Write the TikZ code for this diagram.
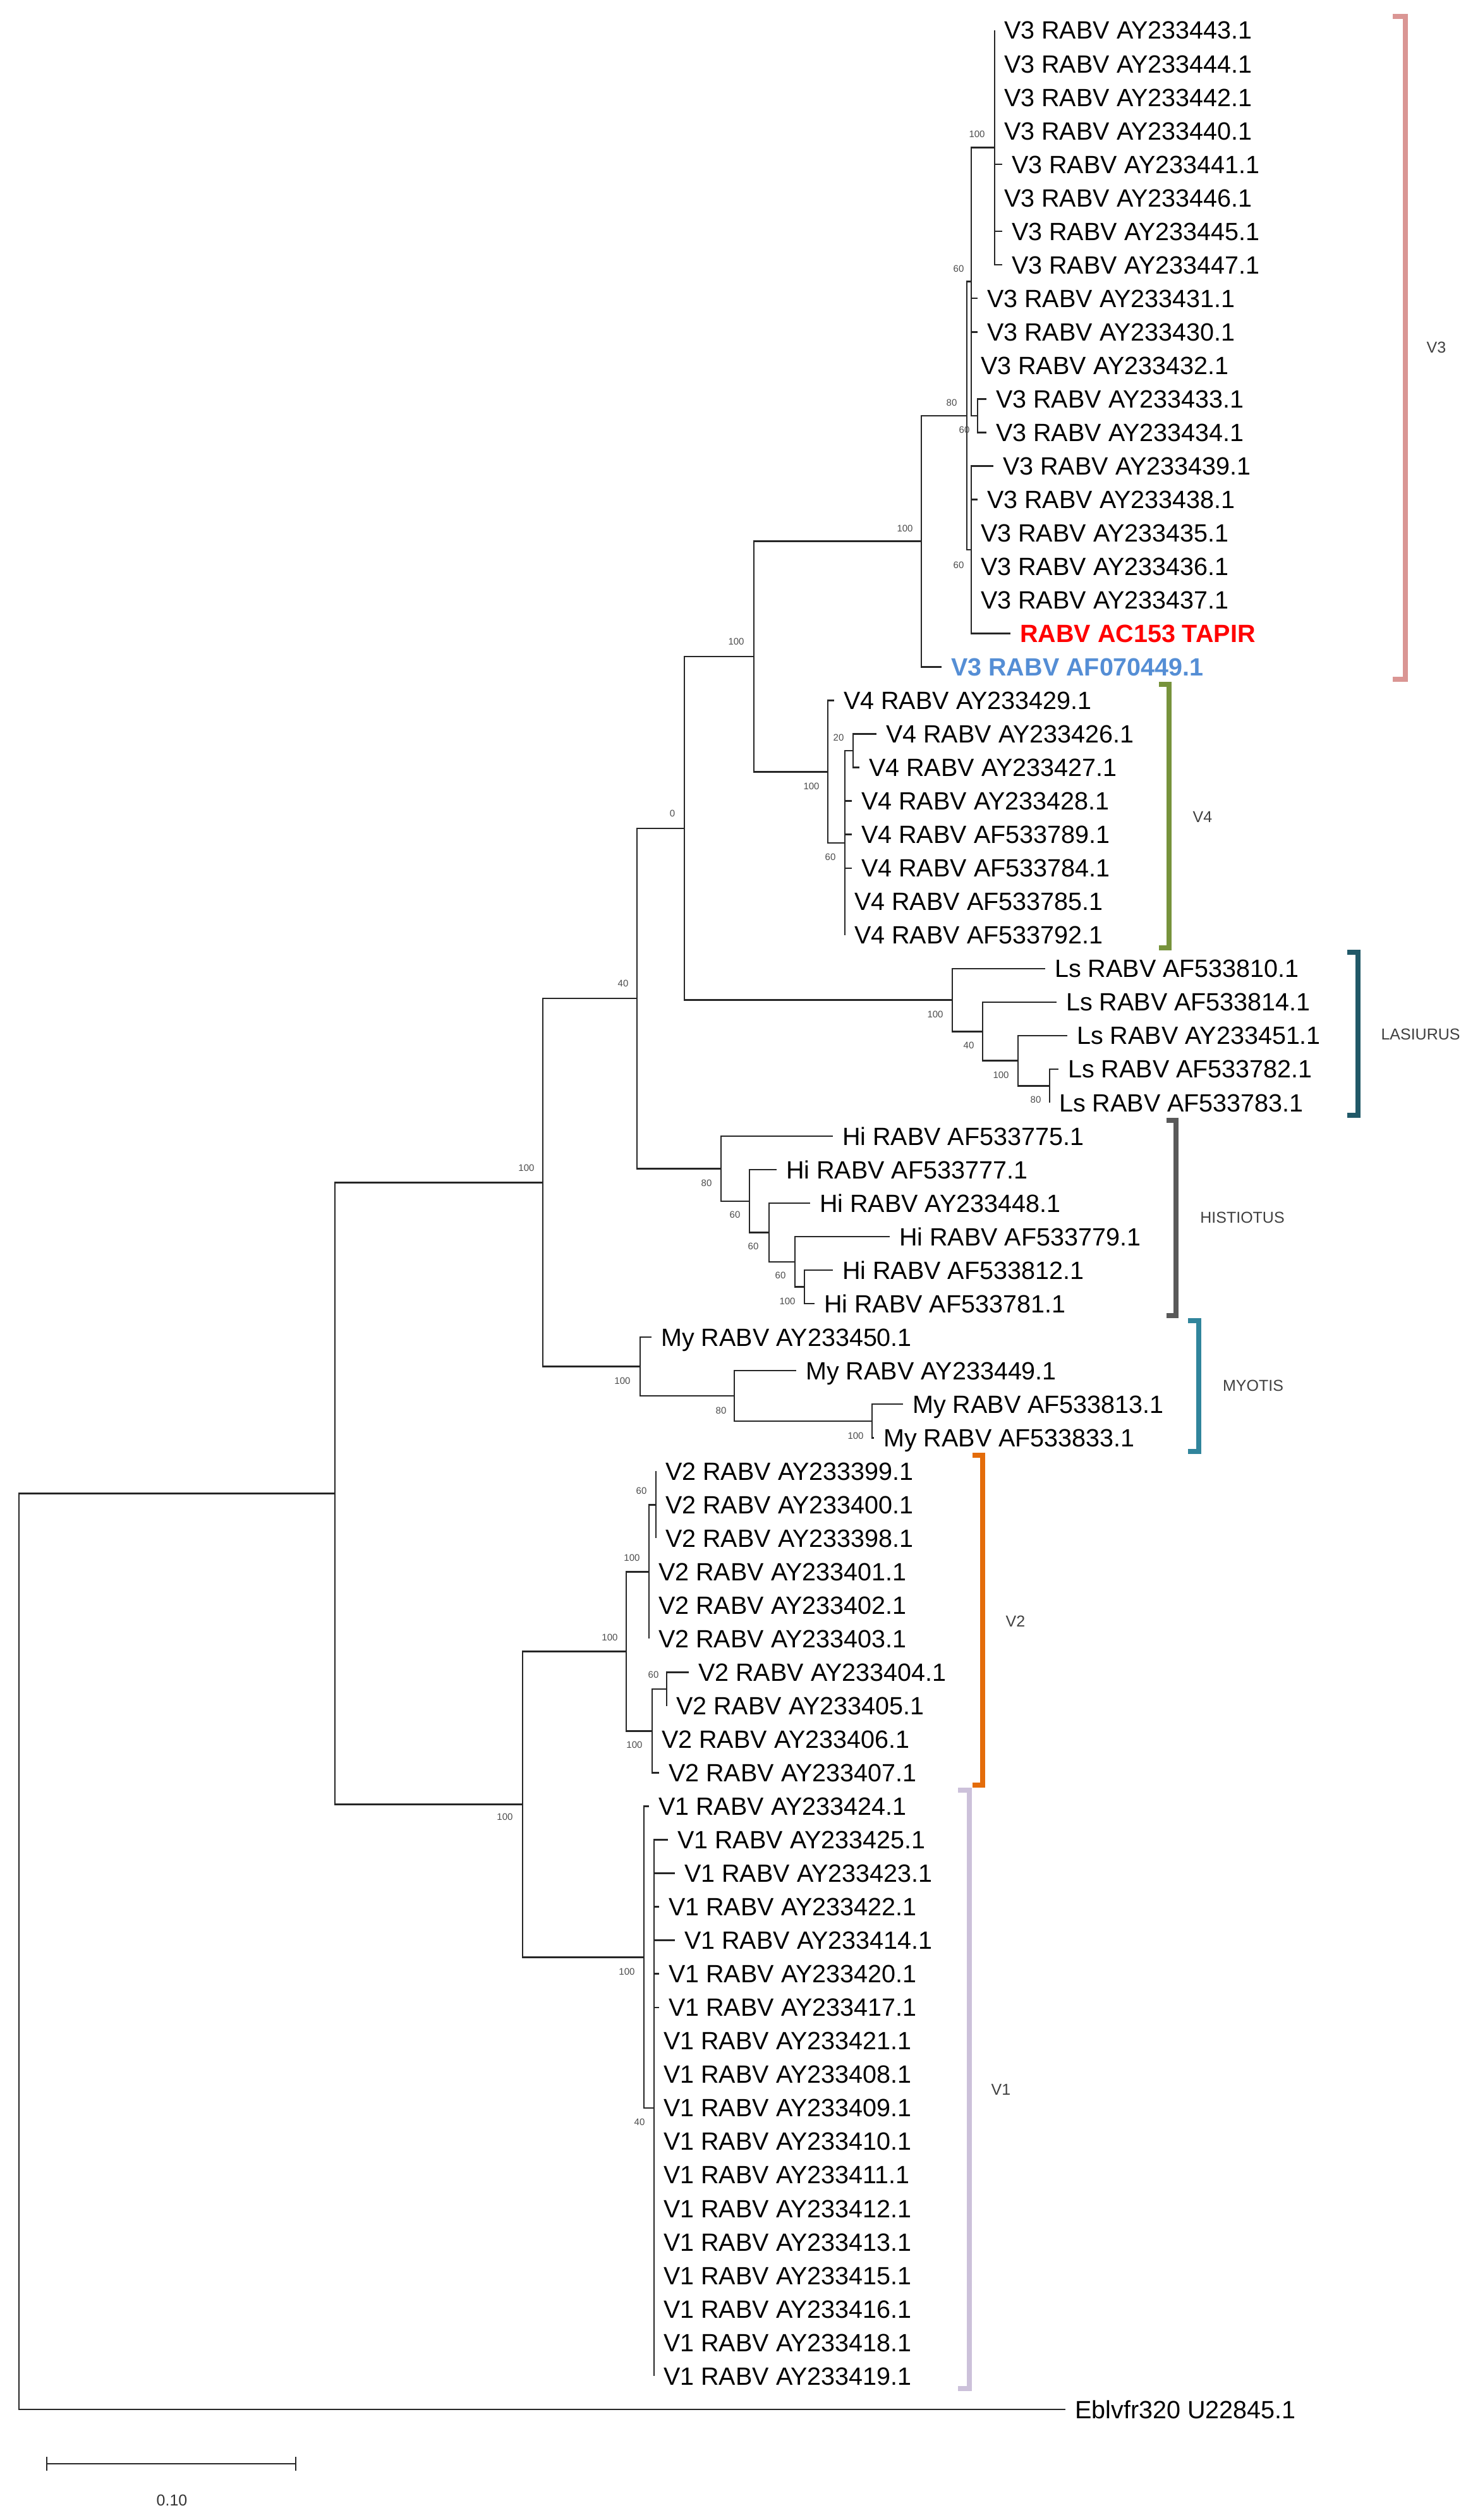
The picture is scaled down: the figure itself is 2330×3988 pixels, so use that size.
\documentclass[tikz,border=0pt]{standalone}
\usepackage{fontspec}
\setmainfont{Liberation Sans}
\definecolor{cVthree}{HTML}{DA9694}
\definecolor{cVfour}{HTML}{77933C}
\definecolor{cLs}{HTML}{215968}
\definecolor{cHi}{HTML}{595959}
\definecolor{cMy}{HTML}{31859C}
\definecolor{cVtwo}{HTML}{E46C0A}
\definecolor{cVone}{HTML}{CCC1DA}
\definecolor{tapirred}{HTML}{FF0000}
\definecolor{refblue}{HTML}{558ED5}
\tikzset{
 br/.style={line width=2.5pt, draw=black!85},
 lab/.style={anchor=base west, xshift=15pt, yshift=-14pt, inner sep=0pt, font=\fontsize{39.5}{45}\selectfont},
 boot/.style={inner sep=0pt, text=black!70, font=\fontsize{15}{18}\selectfont},
 grp/.style={inner sep=0pt, text=black!75, font=\fontsize{25}{30}\selectfont},
 brk/.style={line width=8pt, line join=miter},
}
\newcommand\leaf[4]{\coordinate (#1) at (#2,#3); \node[lab] (#1L) at (#1) {#4};}
\begin{document}
\begin{tikzpicture}[x=1pt,y=-1pt]
\fill[white] (0,0) rectangle (2330,3988);
\useasboundingbox (0,0) rectangle (2330,3988);
% ---------- leaves ----------
\leaf{l443}{1574}{48.0}{V3 RABV AY233443.1}
\leaf{l444}{1574}{101.0}{V3 RABV AY233444.1}
\leaf{l442}{1574}{154.1}{V3 RABV AY233442.1}
\leaf{l440}{1574}{207.1}{V3 RABV AY233440.1}
\leaf{l441}{1586}{260.1}{V3 RABV AY233441.1}
\leaf{l446}{1574}{313.2}{V3 RABV AY233446.1}
\leaf{l445}{1586}{366.2}{V3 RABV AY233445.1}
\leaf{l447}{1586}{419.2}{V3 RABV AY233447.1}
\leaf{l431}{1547}{472.2}{V3 RABV AY233431.1}
\leaf{l430}{1547}{525.3}{V3 RABV AY233430.1}
\leaf{l432}{1537}{578.3}{V3 RABV AY233432.1}
\leaf{l433}{1561}{631.3}{V3 RABV AY233433.1}
\leaf{l434}{1561}{684.4}{V3 RABV AY233434.1}
\leaf{l439}{1572}{737.4}{V3 RABV AY233439.1}
\leaf{l438}{1547}{790.4}{V3 RABV AY233438.1}
\leaf{l435}{1537}{843.5}{V3 RABV AY233435.1}
\leaf{l436}{1537}{896.5}{V3 RABV AY233436.1}
\leaf{l437}{1537}{949.5}{V3 RABV AY233437.1}
\leaf{ltapir}{1599}{1002.5}{\bfseries\color{tapirred}RABV AC153 TAPIR}
\leaf{lref}{1490}{1055.6}{\bfseries\color{refblue}V3 RABV AF070449.1}
\leaf{l429}{1320}{1108.6}{V4 RABV AY233429.1}
\leaf{l426}{1387}{1161.6}{V4 RABV AY233426.1}
\leaf{l427}{1360}{1214.7}{V4 RABV AY233427.1}
\leaf{l428}{1348}{1267.7}{V4 RABV AY233428.1}
\leaf{l789}{1348}{1320.7}{V4 RABV AF533789.1}
\leaf{l784}{1348}{1373.8}{V4 RABV AF533784.1}
\leaf{l785}{1337}{1426.8}{V4 RABV AF533785.1}
\leaf{l792}{1337}{1479.8}{V4 RABV AF533792.1}
\leaf{l810}{1654}{1532.8}{Ls RABV AF533810.1}
\leaf{l814}{1672}{1585.9}{Ls RABV AF533814.1}
\leaf{l451}{1689}{1638.9}{Ls RABV AY233451.1}
\leaf{l782}{1675}{1691.9}{Ls RABV AF533782.1}
\leaf{l783}{1661}{1745.0}{Ls RABV AF533783.1}
\leaf{l775}{1318}{1798.0}{Hi RABV AF533775.1}
\leaf{l777}{1229}{1851.0}{Hi RABV AF533777.1}
\leaf{l448}{1282}{1904.1}{Hi RABV AY233448.1}
\leaf{l779}{1408}{1957.1}{Hi RABV AF533779.1}
\leaf{l812}{1318}{2010.1}{Hi RABV AF533812.1}
\leaf{l781}{1289}{2063.1}{Hi RABV AF533781.1}
\leaf{l450}{1031}{2116.2}{My RABV AY233450.1}
\leaf{l449}{1260}{2169.2}{My RABV AY233449.1}
\leaf{l813}{1429}{2222.2}{My RABV AF533813.1}
\leaf{l833}{1383}{2275.3}{My RABV AF533833.1}
\leaf{l399}{1038}{2328.3}{V2 RABV AY233399.1}
\leaf{l400}{1038}{2381.3}{V2 RABV AY233400.1}
\leaf{l398}{1038}{2434.4}{V2 RABV AY233398.1}
\leaf{l401}{1027}{2487.4}{V2 RABV AY233401.1}
\leaf{l402}{1027}{2540.4}{V2 RABV AY233402.1}
\leaf{l403}{1027}{2593.4}{V2 RABV AY233403.1}
\leaf{l404}{1090}{2646.5}{V2 RABV AY233404.1}
\leaf{l405}{1055}{2699.5}{V2 RABV AY233405.1}
\leaf{l406}{1032}{2752.5}{V2 RABV AY233406.1}
\leaf{l407}{1043}{2805.6}{V2 RABV AY233407.1}
\leaf{l424}{1027}{2858.6}{V1 RABV AY233424.1}
\leaf{l425}{1057}{2911.6}{V1 RABV AY233425.1}
\leaf{l423}{1068}{2964.7}{V1 RABV AY233423.1}
\leaf{l422}{1043}{3017.7}{V1 RABV AY233422.1}
\leaf{l414}{1068}{3070.7}{V1 RABV AY233414.1}
\leaf{l420}{1043}{3123.7}{V1 RABV AY233420.1}
\leaf{l417}{1043}{3176.8}{V1 RABV AY233417.1}
\leaf{l421}{1035}{3229.8}{V1 RABV AY233421.1}
\leaf{l408}{1035}{3282.8}{V1 RABV AY233408.1}
\leaf{l409}{1035}{3335.9}{V1 RABV AY233409.1}
\leaf{l410}{1035}{3388.9}{V1 RABV AY233410.1}
\leaf{l411}{1035}{3441.9}{V1 RABV AY233411.1}
\leaf{l412}{1035}{3495.0}{V1 RABV AY233412.1}
\leaf{l413}{1035}{3548.0}{V1 RABV AY233413.1}
\leaf{l415}{1035}{3601.0}{V1 RABV AY233415.1}
\leaf{l416}{1035}{3654.0}{V1 RABV AY233416.1}
\leaf{l418}{1035}{3707.1}{V1 RABV AY233418.1}
\leaf{l419}{1035}{3760.1}{V1 RABV AY233419.1}
\leaf{lEbl}{1686}{3813.1}{Eblvfr320 U22845.1}
% ---------- internal nodes ----------
\coordinate (T1) at (1574,233.6);
\coordinate (N3334) at (1547,657.9);
\coordinate (U1) at (1537,445.7);
\coordinate (L1) at (1537,870.0);
\coordinate (N80) at (1530,657.8);
\coordinate (V3R) at (1458,856.7);
\coordinate (N20) at (1350,1188.2);
\coordinate (N60v) at (1337,1333.9);
\coordinate (V4R) at (1310,1221.3);
\coordinate (V34) at (1193,1039.0);
\coordinate (N80l) at (1661,1718.5);
\coordinate (N100l) at (1611,1678.7);
\coordinate (N40l) at (1555,1632.3);
\coordinate (LsR) at (1507,1582.6);
\coordinate (N0) at (1083,1310.8);
\coordinate (H5) at (1273,2036.6);
\coordinate (H4) at (1258,1996.9);
\coordinate (H3) at (1217,1950.5);
\coordinate (H2) at (1186,1900.8);
\coordinate (HiR) at (1141,1849.4);
\coordinate (N40) at (1008,1580.1);
\coordinate (M3) at (1380,2248.8);
\coordinate (M2) at (1162,2209.0);
\coordinate (MyR) at (1013,2162.6);
\coordinate (Bat) at (859,1871.4);
\coordinate (Q1) at (1038,2381.3);
\coordinate (Q2) at (1027,2487.4);
\coordinate (Q3) at (1055,2673.0);
\coordinate (Q4) at (1032,2739.3);
\coordinate (V2R) at (991,2613.4);
\coordinate (P2) at (1035,3335.9);
\coordinate (V1R) at (1019,3097.3);
\coordinate (V12) at (827,2855.3);
\coordinate (A) at (530,2363.4);
\coordinate (Root) at (30,3088.0);
% ---------- branches ----------
\foreach \p/\c in {T1/l443,T1/l444,T1/l442,T1/l440,T1/l441,T1/l446,T1/l445,T1/l447,
  N3334/l433,N3334/l434,U1/T1,U1/l431,U1/l430,U1/l432,U1/N3334,
  L1/l439,L1/l438,L1/l435,L1/l436,L1/l437,L1/ltapir,N80/U1,N80/L1,V3R/N80,V3R/lref,
  N20/l426,N20/l427,N60v/N20,N60v/l428,N60v/l789,N60v/l784,N60v/l785,N60v/l792,
  V4R/l429,V4R/N60v,V34/V3R,V34/V4R,
  N80l/l782,N80l/l783,N100l/l451,N100l/N80l,N40l/l814,N40l/N100l,LsR/l810,LsR/N40l,
  N0/V34,N0/LsR,
  H5/l812,H5/l781,H4/l779,H4/H5,H3/l448,H3/H4,H2/l777,H2/H3,HiR/l775,HiR/H2,
  N40/N0,N40/HiR,
  M3/l813,M3/l833,M2/l449,M2/M3,MyR/l450,MyR/M2,Bat/N40,Bat/MyR,
  Q1/l399,Q1/l400,Q1/l398,Q2/Q1,Q2/l401,Q2/l402,Q2/l403,Q3/l404,Q3/l405,
  Q4/Q3,Q4/l406,Q4/l407,V2R/Q2,V2R/Q4,
  P2/l425,P2/l423,P2/l422,P2/l414,P2/l420,P2/l417,P2/l421,P2/l408,P2/l409,
  P2/l410,P2/l411,P2/l412,P2/l413,P2/l415,P2/l416,P2/l418,P2/l419,
  V1R/l424,V1R/P2,V12/V2R,V12/V1R,A/Bat,A/V12,Root/A,Root/lEbl}
  {\draw[br] (\p) |- (\c);}
% ---------- bootstrap values ----------
\node[boot] (b1) at (1546,212) {100};
\node[boot] (b2) at (1517,425) {60};
\node[boot] (b3) at (1506,637) {80};
\node[boot] (b4) at (1526,680) {60};
\node[boot] (b5) at (1517,894) {60};
\node[boot] (b6) at (1432,836) {100};
\node[boot] (b7) at (1165,1015) {100};
\node[boot] (b8) at (1064,1287) {0};
\node[boot] (b9) at (986,1556) {40};
\node[boot] (b10) at (1327,1167) {20};
\node[boot] (b11) at (1284,1244) {100};
\node[boot] (b12) at (1314,1356) {60};
\node[boot] (b13) at (1480,1605) {100};
\node[boot] (b14) at (1533,1654) {40};
\node[boot] (b15) at (1584,1701) {100};
\node[boot] (b16) at (1639,1740) {80};
\node[boot] (b17) at (1118,1872) {80};
\node[boot] (b18) at (1163,1922) {60};
\node[boot] (b19) at (1192,1972) {60};
\node[boot] (b20) at (1235,2018) {60};
\node[boot] (b21) at (1246,2059) {100};
\node[boot] (b22) at (985,2185) {100};
\node[boot] (b23) at (1141,2232) {80};
\node[boot] (b24) at (1354,2272) {100};
\node[boot] (b25) at (833,1848) {100};
\node[boot] (b26) at (799,2875) {100};
\node[boot] (b27) at (965,2591) {100};
\node[boot] (b28) at (1000,2465) {100};
\node[boot] (b29) at (1015,2359) {60};
\node[boot] (b30) at (1004,2761) {100};
\node[boot] (b31) at (1034,2650) {60};
\node[boot] (b32) at (992,3120) {100};
\node[boot] (b33) at (1012,3358) {40};
% ---------- clade brackets ----------
\draw[brk, cVthree] (2204,26) -- (2224,26) -- (2224,1075) -- (2204,1075);
\node[grp] (gV3) at (2273,550) {V3};
\draw[brk, cVfour] (1834,1083) -- (1850,1083) -- (1850,1500) -- (1834,1500);
\node[grp] (gV4) at (1903,1293) {V4};
\draw[brk, cLs] (2132,1507) -- (2149,1507) -- (2149,1765) -- (2132,1765);
\node[grp] (gLs) at (2248,1637) {LASIURUS};
\draw[brk, cHi] (1846,1773) -- (1861,1773) -- (1861,2082) -- (1846,2082);
\node[grp] (gHi) at (1966,1927) {HISTIOTUS};
\draw[brk, cMy] (1880,2090) -- (1897,2090) -- (1897,2297) -- (1880,2297);
\node[grp] (gMy) at (1983,2193) {MYOTIS};
\draw[brk, cVtwo] (1539,2303) -- (1555,2303) -- (1555,2825) -- (1539,2825);
\node[grp] (gV2) at (1607,2566) {V2};
\draw[brk, cVone] (1516,2833) -- (1534,2833) -- (1534,3780) -- (1516,3780);
\node[grp] (gV1) at (1584,3307) {V1};
% ---------- scale bar ----------
\coordinate (sbL) at (74,3899);
\coordinate (sbR) at (468,3899);
\draw[br] (sbL) -- (sbR);
\draw[br, line width=2pt] ([yshift=11pt]sbL) -- ([yshift=-11pt]sbL);
\draw[br, line width=2pt] ([yshift=11pt]sbR) -- ([yshift=-11pt]sbR);
\node[grp, text=black!80] (sblab) at (272,3957) {0.10};
\end{tikzpicture}
\end{document}
